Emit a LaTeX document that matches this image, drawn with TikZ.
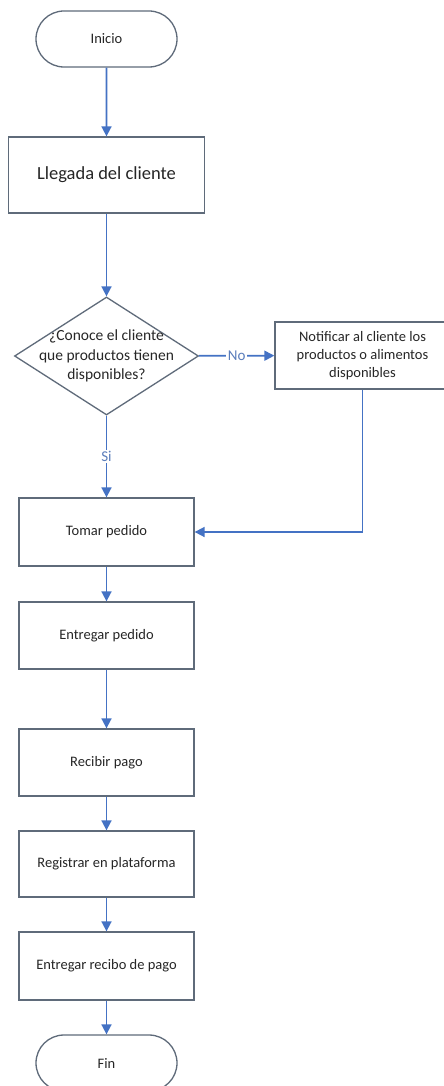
\documentclass[tikz,border=0pt]{standalone}
\usepackage{fontspec}
\setmainfont{Carlito}
\usetikzlibrary{shapes.geometric,shapes.misc,arrows.meta}
\definecolor{flow}{HTML}{4472C4}
\definecolor{frame}{HTML}{5F6B7A}
\definecolor{ink}{HTML}{262626}
\definecolor{tagink}{HTML}{5A7DBB}
\tikzset{
  txt/.style={text=ink, font=\fontsize{14.5}{18}\selectfont, align=center},
  box/.style={txt, draw=frame, line width=1.3pt, fill=white,
    minimum width=175pt, minimum height=67pt, inner sep=0pt},
  term/.style={txt, draw=frame, line width=1.3pt, fill=white, rounded rectangle,
    minimum width=141pt, minimum height=56pt, inner sep=0pt},
  decision/.style={draw=frame, line width=1.3pt, fill=white, diamond,
    minimum width=184pt, minimum height=118pt, inner sep=0pt},
  flowline/.style={draw=flow, line width=1.7pt,
    -{Triangle[length=10pt,width=10pt]}},
  tag/.style={fill=white, text=tagink, font=\fontsize{15}{18}\selectfont, inner sep=1.5pt}
}
\begin{document}
\begin{tikzpicture}[x=1pt,y=-1pt]
  \useasboundingbox (0,0) rectangle (444,1086);
  \fill[white] (0,0) rectangle (444,1086);

  % process steps, all centred on one vertical axis
  \def\axis{106.5}
  \node[term] (inicio) at (\axis,39) {Inicio};
  \node[box, minimum width=196pt, minimum height=76pt,
        font=\fontsize{18.5}{22}\selectfont] (llegada) at (\axis,175) {Llegada del cliente};
  \node[decision] (conoce) at (\axis,356) {};
  \node[txt, font=\fontsize{15.5}{19.5}\selectfont] at (conoce)
    {¿Conoce el cliente\\que productos tienen\\disponibles?};
  \node[box] (notificar) at (362.5,355.5)
    {Notificar al cliente los\\productos o alimentos\\disponibles};
  \node[box, minimum height=68pt] (tomar) at (\axis,532) {Tomar pedido};
  \node[box] (entregar) at (\axis,635.5) {Entregar pedido};
  \node[box] (recibir) at (\axis,762.5) {Recibir pago};
  \node[box, minimum height=66pt] (registrar) at (\axis,864) {Registrar en plataforma};
  \node[box, minimum height=68pt] (recibo) at (\axis,966) {Entregar recibo de pago};
  \node[term] (fin) at (\axis,1063) {Fin};

  % connectors
  \draw[flowline] (inicio) -- (llegada);
  \draw[flowline] (llegada) -- (conoce);
  \draw[flowline] (conoce) -- node[tag] {No} (notificar);
  \draw[flowline] (conoce) -- node[tag] {Si} (tomar);
  \draw[flowline] (notificar.south) |- (tomar.east);
  \draw[flowline] (tomar) -- (entregar);
  \draw[flowline] (entregar) -- (recibir);
  \draw[flowline] (recibir) -- (registrar);
  \draw[flowline] (registrar) -- (recibo);
  \draw[flowline] (recibo) -- (fin);
\end{tikzpicture}
\end{document}
